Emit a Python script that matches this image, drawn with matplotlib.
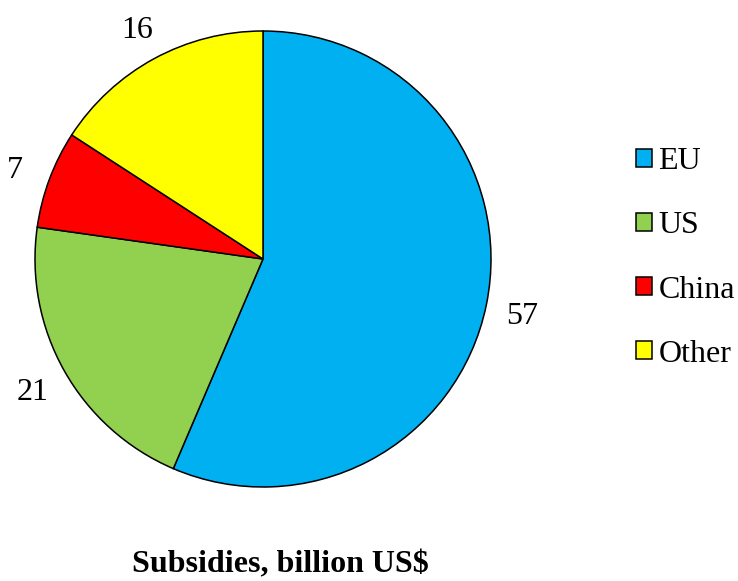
import matplotlib.pyplot as plt
from matplotlib.patches import Patch

categories = ["EU", "US", "China", "Other"]
values = [57, 21, 7, 16]
colors = ["#00B0F0", "#92D050", "#FF0000", "#FFFF00"]
title = "Subsidies, billion US$"

plt.rcParams['font.family'] = ['Liberation Serif', 'DejaVu Serif']

fig = plt.figure(figsize=(7.38, 5.81), dpi=100)
ax = fig.add_axes([35/738, 94/581, 456/738, 456/581])

wedges, texts = ax.pie(values, colors=colors, startangle=90, counterclock=False,
                       labels=[str(v) for v in values], labeldistance=1.16,
                       wedgeprops=dict(edgecolor="black", linewidth=1.1),
                       textprops=dict(fontsize=23))
for t in texts:
    t.set_ha("center")
    t.set_va("center")
    x, y = t.get_position()
    t.set_position((x, y - 0.018))
    t.set_clip_on(False)
ax.set_xlim(-1, 1)
ax.set_ylim(-1, 1)
ax.set_aspect("equal")

handles = [Patch(facecolor=c, edgecolor="black", linewidth=1.1) for c in colors]
fig.legend(handles, categories, loc="center left", bbox_to_anchor=(636/738, 1 - 258/581),
           frameon=False, fontsize=23, handlelength=0.5, handleheight=0.5,
           handletextpad=0.2, labelspacing=1.1, borderpad=0, borderaxespad=0)

fig.text(280/738, 1 - 565/581, title, ha="center", va="center",
         fontsize=23, fontweight="bold")

fig.savefig("out.png", dpi=100)
